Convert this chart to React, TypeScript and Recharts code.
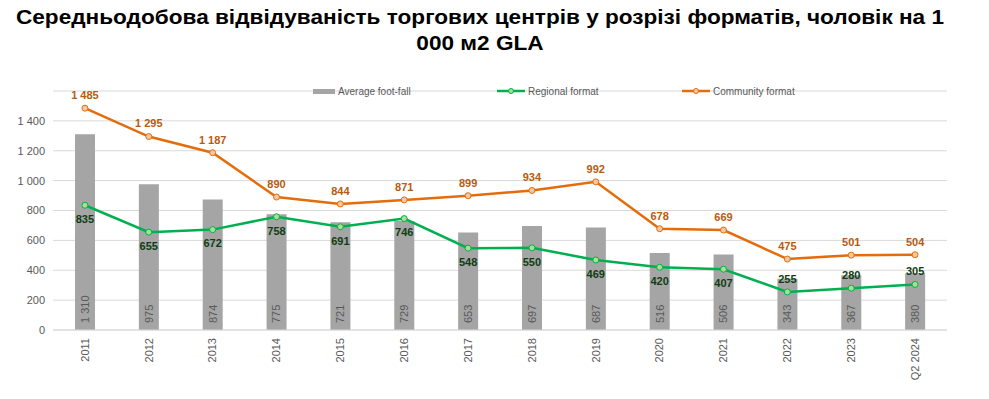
import React from "react";
import {
  ComposedChart,
  Bar,
  Line,
  XAxis,
  YAxis,
  CartesianGrid,
  Legend,
  LabelList,
} from "recharts";

const categories = ["2011", "2012", "2013", "2014", "2015", "2016", "2017", "2018", "2019", "2020", "2021", "2022", "2023", "Q2 2024"];
const averageFootfall = [1310, 975, 874, 775, 721, 729, 653, 697, 687, 516, 506, 343, 367, 380];
const regionalFormat = [835, 655, 672, 758, 691, 746, 548, 550, 469, 420, 407, 255, 280, 305];
const communityFormat = [1485, 1295, 1187, 890, 844, 871, 899, 934, 992, 678, 669, 475, 501, 504];
const yTicks = [0, 200, 400, 600, 800, 1000, 1200, 1400];

const data = categories.map((c, i) => ({
  cat: c,
  avg: averageFootfall[i],
  reg: regionalFormat[i],
  com: communityFormat[i],
}));

const fmt = (v: number) => String(v).replace(/\B(?=(\d{3})+(?!\d))/g, " ");

const FONT = "'Liberation Sans', Arial, sans-serif";
const BAR = "#a5a5a5";
const GREEN = "#00b050";
const ORANGE = "#e46c0a";

const XTick = (props: any) => {
  const { x, y, payload } = props;
  return (
    <text
      x={x}
      y={y}
      transform={`rotate(-90, ${x}, ${y})`}
      textAnchor="end"
      dy="0.35em"
      fontSize={11}
      fill="#595959"
      fontFamily={FONT}
    >
      {payload.value}
    </text>
  );
};

const BarLabel = (props: any) => {
  const { x, y, width, height, value } = props;
  const cx = x + width / 2;
  const by = y + height - 7;
  return (
    <text
      x={cx}
      y={by}
      transform={`rotate(-90, ${cx}, ${by})`}
      textAnchor="start"
      dy="0.35em"
      fontSize={11}
      fill="#595959"
      fontFamily={FONT}
    >
      {fmt(value)}
    </text>
  );
};

const ComLabel = (props: any) => {
  const { x, y, value } = props;
  return (
    <text x={x} y={y - 13} dy="0.35em" textAnchor="middle" fontSize={11} fontWeight="bold" fill="#b85a10" fontFamily={FONT}>
      {fmt(value)}
    </text>
  );
};

const RegLabel = (props: any) => {
  const { x, y, value, index } = props;
  const above = index >= 11;
  return (
    <text x={x} y={above ? y - 13 : y + 14} dy="0.35em" textAnchor="middle" fontSize={11} fontWeight="bold" fill="#0f3d12" fontFamily={FONT}>
      {fmt(value)}
    </text>
  );
};

const LegendContent = () => {
  const item = (left: number, swatch: React.ReactNode, label: string) => (
    <div style={{ position: "absolute", left, top: 0, display: "flex", alignItems: "center", height: 16 }}>
      {swatch}
      <span style={{ marginLeft: 3, fontSize: 10, color: "#595959", fontFamily: FONT }}>{label}</span>
    </div>
  );
  const lineSwatch = (color: string, fill: string) => (
    <svg width={28} height={8}>
      <line x1={0} y1={4} x2={28} y2={4} stroke={color} strokeWidth={2.5} />
      <circle cx={14} cy={4} r={2.5} fill={fill} stroke={color} strokeWidth={1} />
    </svg>
  );
  return (
    <div style={{ position: "relative", width: 989, height: 16 }}>
      {item(313, <div style={{ width: 22, height: 5, background: BAR }} />, "Average foot-fall")}
      {item(497, lineSwatch(GREEN, "#a9e08f"), "Regional format")}
      {item(682, lineSwatch(ORANGE, "#f7c6a3"), "Community format")}
    </div>
  );
};

export default function App() {
  return (
    <div style={{ position: "absolute", left: 0, top: 0, width: 989, height: 399, background: "#fff" }}>
      <div
        style={{
          position: "absolute",
          left: 0,
          top: 4,
          width: 960,
          textAlign: "center",
          fontFamily: FONT,
          fontWeight: "bold",
          fontSize: 20,
          lineHeight: "26px",
          color: "#000",
          transform: "scaleX(1.13)",
          transformOrigin: "480px 0",
          zIndex: 2,
        }}
      >
        <div>Середньодобова відвідуваність торгових центрів у розрізі форматів, чоловік на 1</div>
        <div>000 м2 GLA</div>
      </div>
      <ComposedChart
        width={989}
        height={399}
        data={data}
        margin={{ top: 75, right: 42, bottom: 9, left: 0 }}
        style={{ position: "absolute", left: 0, top: 0 }}
      >
        <CartesianGrid vertical={false} stroke="#d9d9d9" />
        <XAxis
          dataKey="cat"
          interval={0}
          height={60}
          tickLine={false}
          axisLine={{ stroke: "#d9d9d9" }}
          tick={<XTick />}
          tickMargin={2}
        />
        <YAxis
          width={53}
          domain={[0, 1600]}
          ticks={yTicks}
          tickLine={false}
          axisLine={false}
          tickFormatter={fmt}
          tick={{ fontSize: 11, fill: "#595959", fontFamily: FONT }}
        />
        <Legend verticalAlign="top" content={<LegendContent />} wrapperStyle={{ top: 83, left: 0, width: 989 }} />
        <Bar dataKey="avg" fill={BAR} barSize={20} isAnimationActive={false}>
          <LabelList dataKey="avg" content={<BarLabel />} />
        </Bar>
        <Line
          dataKey="reg"
          stroke={GREEN}
          strokeWidth={2.5}
          dot={{ r: 3, fill: "#a9e08f", stroke: GREEN, strokeWidth: 1 }}
          isAnimationActive={false}
        >
          <LabelList dataKey="reg" content={<RegLabel />} />
        </Line>
        <Line
          dataKey="com"
          stroke={ORANGE}
          strokeWidth={2.5}
          dot={{ r: 3, fill: "#f7c6a3", stroke: ORANGE, strokeWidth: 1 }}
          isAnimationActive={false}
        >
          <LabelList dataKey="com" content={<ComLabel />} />
        </Line>
      </ComposedChart>
    </div>
  );
}
